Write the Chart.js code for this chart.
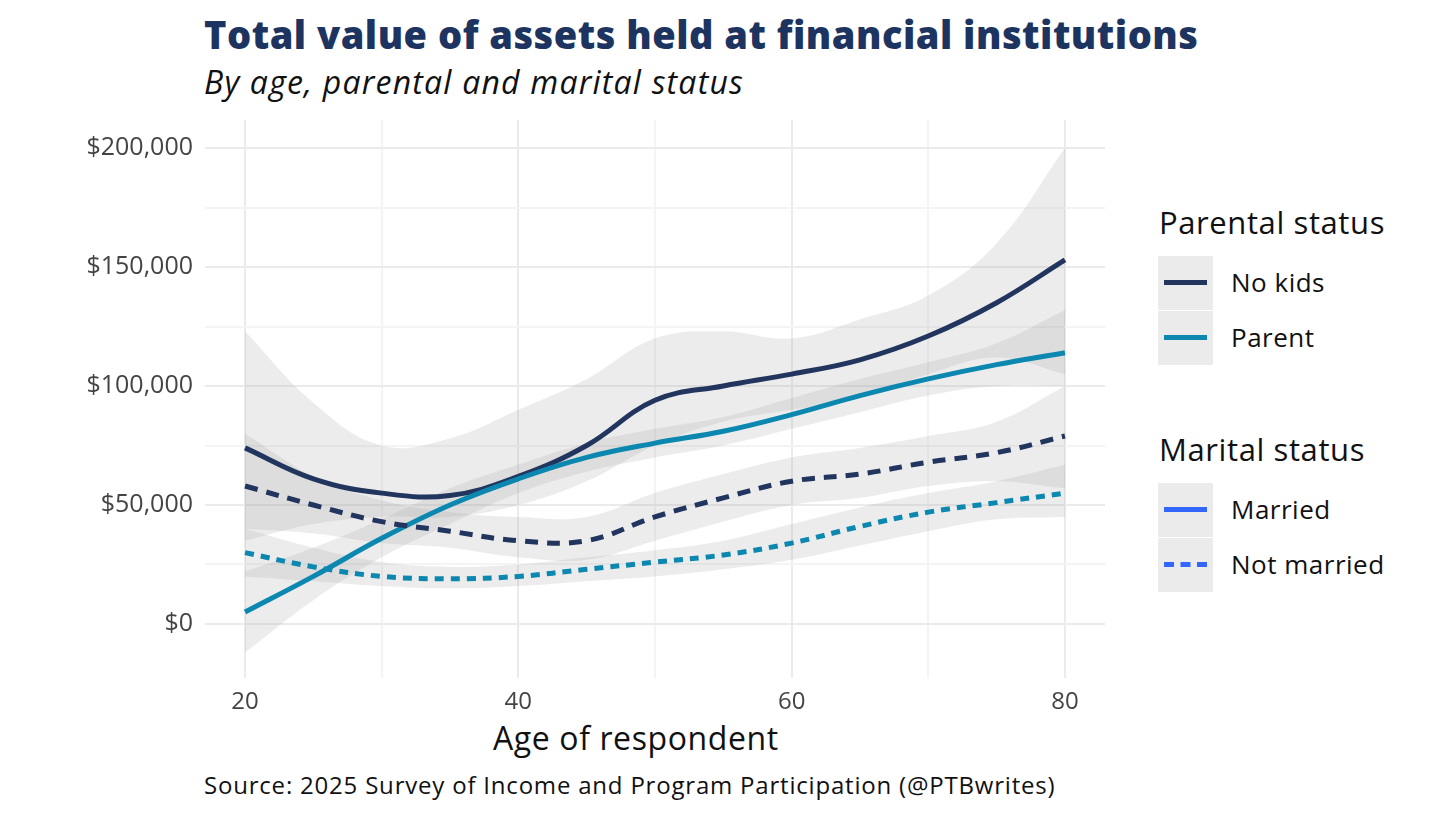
<!DOCTYPE html>
<html>
<head>
<meta charset="utf-8">
<script src="https://cdn.jsdelivr.net/npm/chart.js@4"></script>
<style>
  body { margin: 0; width: 1456px; height: 819px; background: #fff; font-family: "Open Sans", sans-serif; position: relative; overflow: hidden; }
  .txt { position: absolute; white-space: nowrap; }
  #title { left: 204px; top: 8px; font-size: 38px; font-weight: 800; color: #1d3461; letter-spacing: 0.5px; }
  #subtitle { left: 204px; top: 60px; font-size: 32px; font-style: italic; color: #111; letter-spacing: 1.2px; }
  #xtitle { left: 493px; top: 716px; font-size: 32px; color: #111; letter-spacing: 0.6px; }
  #source { left: 204px; top: 768px; font-size: 24px; color: #111; letter-spacing: 0.8px; }
  .lgtitle { left: 1159px; font-size: 31px; color: #111; letter-spacing: 0.6px; }
  .key { position: absolute; left: 1158px; width: 55px; height: 54px; background: #ebebeb; }
  .key span { position: absolute; left: 6px; right: 6px; top: 24px; height: 0; border-top: 5px solid; }
  .lglabel { left: 1231px; font-size: 26px; color: #111; letter-spacing: 0.5px; }
  canvas { position: absolute; left: 0; top: 0; }
</style>
</head>
<body>
<div class="txt" id="title">Total value of assets held at financial institutions</div>
<div class="txt" id="subtitle">By age, parental and marital status</div>
<div class="txt" id="xtitle">Age of respondent</div>
<div class="txt" id="source">Source: 2025 Survey of Income and Program Participation (@PTBwrites)</div>

<div class="txt lgtitle" style="top:201px">Parental status</div>
<div class="key" style="top:256px"><span style="border-color:#22355e"></span></div>
<div class="key" style="top:311px"><span style="border-color:#0b87b0"></span></div>
<div class="txt lglabel" style="top:264px">No kids</div>
<div class="txt lglabel" style="top:319px">Parent</div>

<div class="txt lgtitle" style="top:428px">Marital status</div>
<div class="key" style="top:483px"><span style="border-color:#3366ff"></span></div>
<div class="key" style="top:538px"><span style="border-color:#3366ff; border-top-style:dashed"></span></div>
<div class="txt lglabel" style="top:491px">Married</div>
<div class="txt lglabel" style="top:546px">Not married</div>

<canvas id="chart" width="1456" height="819"></canvas>
<script>
const ages = [20, 25, 30, 35, 40, 45, 50, 55, 60, 65, 70, 75, 80];

// smoothed fits (dollars)
const noKidsMarried    = [74000, 61000, 55000, 54000, 62000, 75000, 94000, 100000, 105000, 111000, 121000, 135000, 153000];
const parentMarried    = [5000, 20000, 36000, 50000, 61000, 70000, 76000, 81000, 88000, 96000, 103000, 109000, 114000];
const noKidsNotMarried = [58000, 50000, 43000, 39000, 35000, 35000, 45000, 53000, 60000, 63000, 68000, 72000, 79000];
const parentNotMarried = [30000, 24000, 20000, 19000, 20000, 23000, 26000, 29000, 34000, 41000, 47000, 51000, 55000];

// confidence bands
const noKidsMarriedLo    = [35000, 42000, 45000, 45000, 50000, 60000, 75000, 85000, 90000, 95000, 105000, 112000, 105000];
const noKidsMarriedHi    = [123000, 93000, 75000, 78000, 90000, 103000, 120000, 123000, 120000, 128000, 138000, 160000, 200000];
const parentMarriedLo    = [-12000, 10000, 28000, 42000, 55000, 64000, 70000, 75000, 82000, 89000, 96000, 100000, 100000];
const parentMarriedHi    = [22000, 32000, 44000, 57000, 67000, 76000, 82000, 87000, 95000, 103000, 110000, 118000, 132000];
const noKidsNotMarriedLo = [40000, 38000, 34000, 32000, 28000, 27000, 35000, 43000, 50000, 53000, 58000, 60000, 57000];
const noKidsNotMarriedHi = [80000, 62000, 52000, 47000, 45000, 45000, 55000, 63000, 70000, 74000, 79000, 85000, 100000];
const parentNotMarriedLo = [20000, 18000, 16000, 15000, 16000, 18000, 20000, 23000, 27000, 33000, 39000, 44000, 45000];
const parentNotMarriedHi = [40000, 32000, 26000, 24000, 25000, 28000, 31000, 35000, 42000, 49000, 55000, 60000, 67000];

const yTicks = [0, 50000, 100000, 150000, 200000];

const NAVY = "#22355e";
const TEAL = "#0b87b0";
const BAND = "rgba(160,160,160,0.2)";

function pts(values) {
  return values.map((v, i) => ({ x: ages[i], y: v }));
}

function band(lo, hi) {
  return [
    { data: pts(lo), borderWidth: 0, pointRadius: 0, fill: false, tension: 0.4, order: 2 },
    { data: pts(hi), borderWidth: 0, pointRadius: 0, fill: "-1", backgroundColor: BAND, tension: 0.4, order: 2 },
  ];
}

function line(values, color, dash) {
  return { data: pts(values), borderColor: color, borderWidth: 5, borderDash: dash, pointRadius: 0, fill: false, tension: 0.4, order: 1 };
}

const majorGrid = "#ebebeb";
const minorGrid = "#f4f4f4";

new Chart(document.getElementById("chart"), {
  type: "line",
  data: {
    datasets: [
      ...band(noKidsMarriedLo, noKidsMarriedHi),
      ...band(parentMarriedLo, parentMarriedHi),
      ...band(noKidsNotMarriedLo, noKidsNotMarriedHi),
      ...band(parentNotMarriedLo, parentNotMarriedHi),
      line(parentNotMarried, TEAL, [9, 7]),
      line(noKidsNotMarried, NAVY, [13, 9]),
      line(parentMarried, TEAL, []),
      line(noKidsMarried, NAVY, []),
    ],
  },
  options: {
    responsive: false,
    animation: false,
    layout: { padding: { top: 120, right: 351, bottom: 101, left: 0 } },
    plugins: { legend: { display: false }, tooltip: { enabled: false } },
    scales: {
      x: {
        type: "linear",
        min: 17.07,
        max: 82.93,
        afterBuildTicks: (axis) => {
          axis.ticks = [20, 30, 40, 50, 60, 70, 80].map((v) => ({ value: v }));
        },
        afterFit: (axis) => { axis.height = 40; },
        border: { display: false },
        grid: {
          color: (ctx) => (ctx.tick && ctx.tick.value % 20 === 0 ? majorGrid : minorGrid),
          lineWidth: 2,
          drawTicks: false,
        },
        ticks: {
          padding: 10,
          color: "#444",
          font: { family: "Open Sans", size: 24 },
          callback: (v) => (v % 20 === 0 ? v : ""),
        },
      },
      y: {
        min: -22700,
        max: 211800,
        afterBuildTicks: (axis) => {
          axis.ticks = [0, 25000, 50000, 75000, 100000, 125000, 150000, 175000, 200000].map((v) => ({ value: v }));
        },
        afterFit: (axis) => { axis.width = 205; },
        border: { display: false },
        grid: {
          color: (ctx) => (ctx.tick && yTicks.includes(ctx.tick.value) ? majorGrid : minorGrid),
          lineWidth: 2,
          drawTicks: false,
        },
        ticks: {
          padding: 12,
          color: "#444",
          font: { family: "Open Sans", size: 25 },
          callback: (v) => (yTicks.includes(v) ? "$" + v.toLocaleString("en-US") : ""),
        },
      },
    },
  },
});
</script>
</body>
</html>
